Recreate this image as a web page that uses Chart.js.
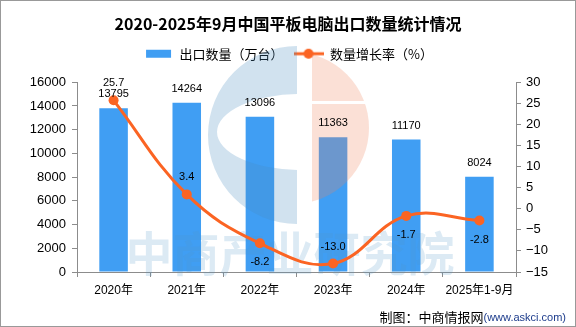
<!DOCTYPE html>
<html>
<head>
<meta charset="utf-8">
<script src="https://cdn.jsdelivr.net/npm/chart.js@4.4.1/dist/chart.umd.min.js"></script>
<style>
  html, body { margin: 0; padding: 0; background: #fff; }
  #wrap { width: 576px; height: 327px; }
</style>
</head>
<body>
<div id="wrap"><canvas id="chart" width="576" height="327"></canvas></div>
<script>
const categories = ['2020年', '2021年', '2022年', '2023年', '2024年', '2025年1-9月'];
const exportQty = [13795, 14264, 13096, 11363, 11170, 8024];
const growthRate = [25.7, 3.4, -8.2, -13.0, -1.7, -2.8];
const leftTicks = [0, 2000, 4000, 6000, 8000, 10000, 12000, 14000, 16000];
const rightTicks = [-15, -10, -5, 0, 5, 10, 15, 20, 25, 30];
// where the growth-rate label sits relative to its point
const rateLabelSide = ['above', 'above', 'below', 'above', 'below', 'below'];

const BAR_COLOR = '#409ef3';
const LINE_COLOR = '#fb6423';
const AXIS_COLOR = '#8c8c8c';
const FONT = "'Liberation Sans', 'Noto Sans CJK SC', sans-serif";

Chart.defaults.font.family = FONT;
Chart.defaults.color = '#000';

function makeBarIcon() {
    const c = document.createElement('canvas');
    c.width = 30; c.height = 10;
    const g = c.getContext('2d');
    g.fillStyle = BAR_COLOR;
    g.fillRect(3, 1, 25, 8);
    return c;
}

function makeLineIcon() {
    const c = document.createElement('canvas');
    c.width = 30; c.height = 12;
    const g = c.getContext('2d');
    g.strokeStyle = LINE_COLOR;
    g.lineWidth = 3;
    g.beginPath();
    g.moveTo(0, 6); g.lineTo(30, 6);
    g.stroke();
    g.fillStyle = LINE_COLOR;
    g.beginPath();
    g.arc(15, 6, 5, 0, Math.PI * 2);
    g.fill();
    return c;
}

const barIcon = makeBarIcon();
const lineIcon = makeLineIcon();

// push the plot down a bit below the legend
const legendGap = {
    id: 'legendGap',
    beforeInit(chart) {
        const fit = chart.legend.fit;
        chart.legend.fit = function () {
            fit.call(this);
            this.height += 12;
        };
    }
};

const background = {
    id: 'background',
    beforeDraw(chart) {
        const ctx = chart.ctx;
        ctx.save();
        ctx.fillStyle = '#fff';
        ctx.fillRect(0, 0, chart.width, chart.height);
        ctx.restore();
    }
};

// faint logo + name watermark, drawn over the bars but under the line
const watermark = {
    id: 'watermark',
    afterDatasetDraw(chart, args) {
        if (args.meta.type !== 'bar') return;
        const ctx = chart.ctx;
        ctx.save();

        // blue "C" part
        ctx.save();
        ctx.beginPath();
        ctx.rect(0, 0, 297, chart.height);
        ctx.clip();
        ctx.beginPath();
        ctx.arc(297, 135, 89, 0, Math.PI * 2);
        ctx.ellipse(300, 132, 83, 38, 0, 0, Math.PI * 2);
        ctx.fillStyle = 'rgba(70, 140, 190, 0.25)';
        ctx.fill('evenodd');
        ctx.restore();

        // orange right half
        ctx.save();
        ctx.beginPath();
        ctx.rect(312, 0, 100, 101);
        ctx.rect(312, 104, 100, 200);
        ctx.clip();
        ctx.beginPath();
        ctx.arc(293, 128, 76, 0, Math.PI * 2);
        ctx.fillStyle = 'rgba(240, 130, 90, 0.25)';
        ctx.fill();
        ctx.restore();

        ctx.font = "bold 47px 'Noto Sans CJK SC', sans-serif";
        ctx.textAlign = 'center';
        ctx.textBaseline = 'middle';
        ctx.fillStyle = 'rgba(80, 150, 200, 0.2)';
        ctx.fillText('中商产业研究院', 290, 253);
        ctx.restore();
    }
};

const valueLabels = {
    id: 'valueLabels',
    afterDatasetsDraw(chart) {
        const ctx = chart.ctx;
        ctx.save();
        ctx.font = '11px ' + FONT;
        ctx.fillStyle = '#000';
        ctx.textAlign = 'center';
        ctx.textBaseline = 'middle';
        chart.getDatasetMeta(0).data.forEach((el, i) => {
            ctx.fillText(String(exportQty[i]), el.x, el.y - 14);
        });
        chart.getDatasetMeta(1).data.forEach((el, i) => {
            const dy = rateLabelSide[i] === 'above' ? -17 : 19;
            ctx.fillText(growthRate[i].toFixed(1), el.x, el.y + dy);
        });
        ctx.restore();
    }
};

const footer = {
    id: 'footer',
    afterDraw(chart) {
        const ctx = chart.ctx;
        ctx.save();
        ctx.textBaseline = 'middle';
        ctx.textAlign = 'right';
        ctx.font = "11px 'Liberation Sans', sans-serif";
        ctx.fillStyle = '#1d3c8c';
        const site = '(www.askci.com)';
        ctx.fillText(site, 566, 318);
        const w = ctx.measureText(site).width;
        ctx.font = "13px 'Noto Sans CJK SC', sans-serif";
        ctx.fillStyle = '#000';
        ctx.fillText('制图：中商情报网', 566 - w, 317);

        ctx.strokeStyle = '#999';
        ctx.lineWidth = 1;
        ctx.strokeRect(0.5, 0.5, chart.width - 1, chart.height - 1);
        ctx.restore();
    }
};

const plainFmt = v => String(v);
const minusFmt = v => String(v).replace('-', '\u2212');

new Chart(document.getElementById('chart'), {
    type: 'bar',
    data: {
        labels: categories,
        datasets: [
            {
                type: 'bar',
                label: '出口数量（万台）',
                data: exportQty,
                backgroundColor: BAR_COLOR,
                borderWidth: 0,
                categoryPercentage: 1,
                barPercentage: 0.39,
                yAxisID: 'y',
                order: 1
            },
            {
                type: 'line',
                label: '数量增长率（%）',
                data: growthRate,
                borderColor: LINE_COLOR,
                backgroundColor: LINE_COLOR,
                borderWidth: 3,
                pointRadius: 5,
                pointHoverRadius: 5,
                pointBackgroundColor: LINE_COLOR,
                pointBorderWidth: 0,
                tension: 0.4,
                yAxisID: 'y1',
                order: 0
            }
        ]
    },
    options: {
        responsive: false,
        animation: false,
        layout: { padding: { left: 0, right: 0, top: 0, bottom: 0 } },
        plugins: {
            title: {
                display: true,
                text: '2020-2025年9月中国平板电脑出口数量统计情况',
                font: { size: 16, weight: 'bold', family: "'Noto Sans CJK SC', sans-serif" },
                color: '#000',
                padding: { top: 14, bottom: 4 }
            },
            legend: {
                display: true,
                labels: {
                    usePointStyle: true,
                    pointStyleWidth: 30,
                    boxHeight: 12,
                    padding: 10,
                    color: '#000',
                    font: { size: 13, family: "'Noto Sans CJK SC', sans-serif" },
                    generateLabels: chart => chart.data.datasets.map((ds, i) => ({
                        text: ds.label,
                        pointStyle: i === 0 ? barIcon : lineIcon,
                        fillStyle: i === 0 ? BAR_COLOR : LINE_COLOR,
                        strokeStyle: i === 0 ? BAR_COLOR : LINE_COLOR,
                        lineWidth: 0,
                        hidden: false,
                        datasetIndex: i
                    }))
                }
            },
            tooltip: { enabled: false }
        },
        scales: {
            x: {
                grid: { offset: true, drawOnChartArea: false, color: AXIS_COLOR, tickLength: 5 },
                border: { color: AXIS_COLOR },
                ticks: { font: { size: 12 }, color: '#000', padding: 6, maxRotation: 0, autoSkip: false },
                afterFit: s => { s.height = 55; }
            },
            y: {
                position: 'left',
                min: leftTicks[0],
                max: leftTicks[leftTicks.length - 1],
                ticks: { stepSize: leftTicks[1] - leftTicks[0], font: { size: 13 }, color: '#000', padding: 6, callback: plainFmt },
                grid: { drawOnChartArea: false, color: AXIS_COLOR, tickLength: 5 },
                border: { color: AXIS_COLOR },
                afterFit: s => { s.width = 77; }
            },
            y1: {
                position: 'right',
                min: rightTicks[0],
                max: rightTicks[rightTicks.length - 1],
                ticks: { stepSize: rightTicks[1] - rightTicks[0], font: { size: 13 }, color: '#000', padding: 5, callback: minusFmt },
                grid: { drawOnChartArea: false, color: AXIS_COLOR, tickLength: 5 },
                border: { color: AXIS_COLOR },
                afterFit: s => { s.width = 60; }
            }
        }
    },
    plugins: [legendGap, background, watermark, valueLabels, footer]
});
</script>
</body>
</html>
